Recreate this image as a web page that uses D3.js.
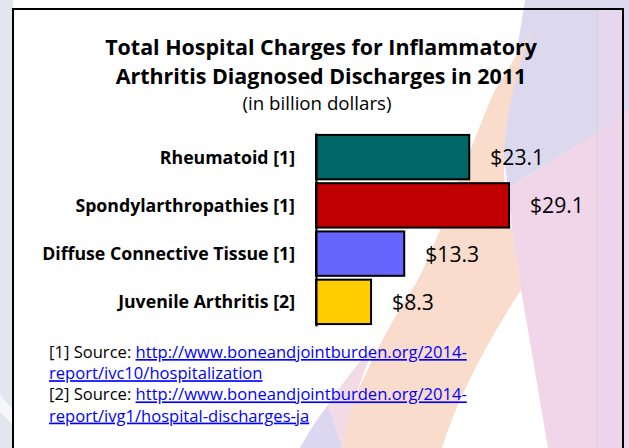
<!DOCTYPE html>
<html>
<head>
<meta charset="utf-8">
<script src="https://cdn.jsdelivr.net/npm/d3@7"></script>
<style>
  html, body { margin: 0; padding: 0; background: #fff; }
  svg { display: block; font-family: "Open Sans", Lato, sans-serif; }
</style>
</head>
<body>
<div id="plot"></div>
<script>
var width = 629, height = 448;

// data
var categories = ["Rheumatoid [1]", "Spondylarthropathies [1]", "Diffuse Connective Tissue [1]", "Juvenile Arthritis [2]"];
var charges = [23.1, 29.1, 13.3, 8.3];
var barColors = ["#006666", "#c00000", "#6666ff", "#ffcc00"];
var titleLines = ["Total Hospital Charges for Inflammatory", "Arthritis Diagnosed Discharges in 2011"];
var subtitle = "(in billion dollars)";
var sources = [
  {tag: "[1] Source: ", url1: "http://www.boneandjointburden.org/2014-", url2: "report/ivc10/hospitalization"},
  {tag: "[2] Source: ", url1: "http://www.boneandjointburden.org/2014-", url2: "report/ivg1/hospital-discharges-ja"}
];

var svg = d3.select("#plot")
  .append("svg")
  .attr("width", width)
  .attr("height", height);

// slide background decoration
var bg = svg.append("g");
bg.append("rect").attr("width", width).attr("height", height).attr("fill", "#fff");
bg.append("rect").attr("x", 0).attr("y", 0).attr("width", 13).attr("height", height).attr("fill", "#e3e6ef");
bg.append("path").attr("d", "M0,395 L13,410 L13,425 L0,412 Z").attr("fill", "#f7f8fb");
bg.append("path")
  .attr("d", "M525,0 L629,0 L629,120 L578,145 L508,188 L503,150 L512,80 Z")
  .attr("fill", "#dcd9ef");
bg.append("path")
  .attr("d", "M629,110 L629,448 L548,448 C540,400 528,330 521,290 L512,230 L508,188 L578,145 Z")
  .attr("fill", "#f1d5e8");
bg.append("path")
  .attr("d", "M532,30 C512,80 500,140 505,188 L512,230 L521,290 C495,330 460,390 442,448 L337,448 C355,390 385,330 415,285 C440,240 460,170 495,90 Z")
  .attr("fill", "#f9dccb");
bg.append("path")
  .attr("d", "M300,448 C310,430 320,415 328,405 C334,420 338,435 342,448 Z")
  .attr("fill", "#dcd7f0");
bg.append("path")
  .attr("d", "M328,405 C345,380 360,360 375,345 C360,380 350,410 342,448 Z")
  .attr("fill", "#f3dbe6");
bg.append("rect").attr("x", 597).attr("y", 9).attr("width", 26).attr("height", height).attr("fill", "#e9d6ec").attr("opacity", 0.6);
bg.append("line").attr("x1", 597).attr("x2", 597).attr("y1", 9).attr("y2", height)
  .attr("stroke", "#cfd0dc").attr("stroke-width", 1);

// frame
svg.append("rect")
  .attr("x", 13).attr("y", 9)
  .attr("width", 610).attr("height", 460)
  .attr("fill", "none")
  .attr("stroke", "#000")
  .attr("stroke-width", 2);

function fitWidth(sel, target) {
  var w = sel.node().getComputedTextLength();
  var fs = parseFloat(sel.style("font-size"));
  sel.style("font-size", (fs * target / w) + "px");
  return sel.style("font-size");
}

// title
var titleBase = [55, 84];
var titleSize = "19px";
titleLines.forEach(function(t, i) {
  var tx = svg.append("text")
    .attr("x", 321)
    .attr("y", titleBase[i])
    .attr("text-anchor", "middle")
    .style("font-weight", "bold")
    .style("font-size", titleSize)
    .style("fill", "#000")
    .text(t);
  if (i === 0) titleSize = fitWidth(tx, 432);
});

var sub = svg.append("text")
  .attr("x", 317)
  .attr("y", 110)
  .attr("text-anchor", "middle")
  .style("font-size", "15px")
  .style("fill", "#000")
  .text(subtitle);
fitWidth(sub, 149);

// scales
var x = d3.scaleLinear()
  .domain([0, 30])
  .range([316, 316 + 199]);

var y = d3.scaleBand()
  .domain(categories)
  .range([133, 326])
  .paddingInner(0.08)
  .paddingOuter(0.04);

var data = categories.map(function(c, i) { return {cat: c, val: charges[i], color: barColors[i]}; });

svg.append("g")
  .selectAll("rect")
  .data(data)
  .enter()
  .append("rect")
  .attr("x", x(0))
  .attr("y", function(d) { return y(d.cat); })
  .attr("width", function(d) { return x(d.val) - x(0); })
  .attr("height", y.bandwidth())
  .attr("fill", function(d) { return d.color; })
  .attr("stroke", "#000")
  .attr("stroke-width", 2);

// category axis
var yAxis = svg.append("g")
  .attr("transform", "translate(316,0)")
  .call(d3.axisLeft(y).tickSize(0).tickPadding(21));
yAxis.select(".domain").attr("stroke", "#000").attr("stroke-width", 2);
yAxis.selectAll("text")
  .style("font-family", "'Open Sans', sans-serif")
  .style("font-weight", "bold")
  .style("font-size", "15px")
  .style("fill", "#000")
  .attr("dy", "0.36em");
var longest = yAxis.selectAll("text").filter(function(d) { return d === categories[2]; });
yAxis.selectAll("text").style("font-size", fitWidth(longest, 253));

// value labels
var vals = svg.append("g")
  .selectAll("text")
  .data(data)
  .enter()
  .append("text")
  .attr("x", function(d) { return x(d.val) + 21; })
  .attr("y", function(d) { return y(d.cat) + y.bandwidth() / 2 + 8; })
  .style("font-size", "19px")
  .style("fill", "#000")
  .text(function(d) { return "$" + d.val.toFixed(1); });
vals.style("font-size", fitWidth(vals.filter(function(d, i) { return i === 0; }), 54));

// sources
var lineY = [358, 379.2, 400.4, 421.6];
var noteSize = "14px";
sources.forEach(function(s, i) {
  var t1 = svg.append("text")
    .attr("x", 49)
    .attr("y", lineY[i * 2])
    .style("font-size", noteSize);
  t1.append("tspan").style("fill", "#000").text(s.tag);
  t1.append("tspan").style("fill", "#0000ff").style("text-decoration", "underline").text(s.url1);
  if (i === 0) noteSize = fitWidth(t1, 418);
  else t1.style("font-size", noteSize);
  svg.append("text")
    .attr("x", 49)
    .attr("y", lineY[i * 2 + 1])
    .style("font-size", noteSize)
    .style("fill", "#0000ff")
    .style("text-decoration", "underline")
    .text(s.url2);
});
</script>
</body>
</html>
